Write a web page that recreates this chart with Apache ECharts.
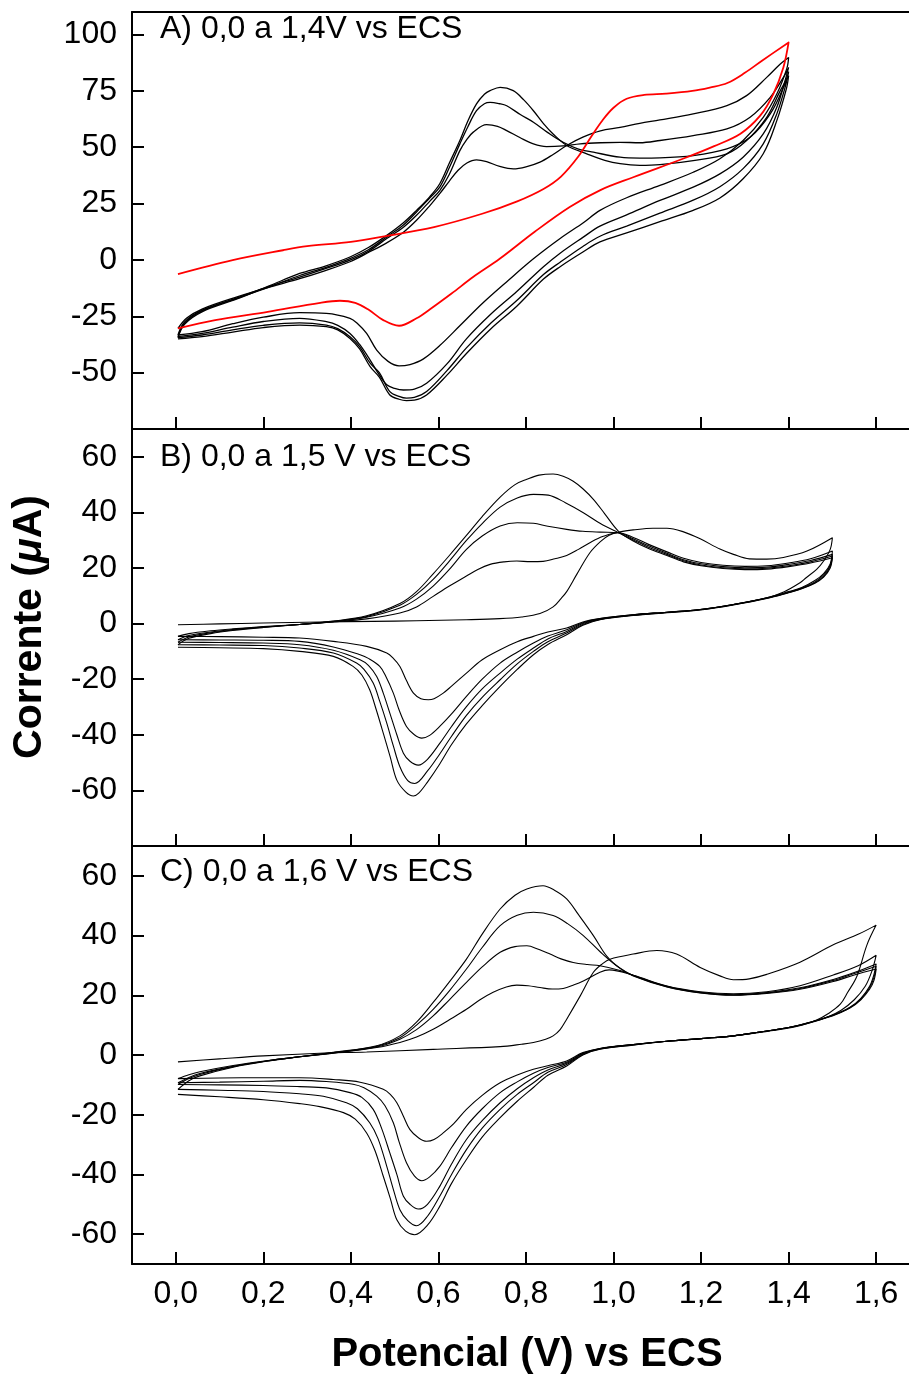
<!DOCTYPE html>
<html><head><meta charset="utf-8">
<script src="https://cdn.jsdelivr.net/npm/echarts@6/dist/echarts.min.js"></script>
<style>html,body{margin:0;padding:0;background:#fff}#c{width:909px;height:1378px}</style>
</head><body><div id="c"></div>
<script>
// ---- tick labels ----
const xTicks = [0, 0.2, 0.4, 0.6, 0.8, 1.0, 1.2, 1.4, 1.6];
const yTicksA = [-50, -25, 0, 25, 50, 75, 100];
const yTicksB = [-60, -40, -20, 0, 20, 40, 60];
const yTicksC = [-60, -40, -20, 0, 20, 40, 60];
const panelLabels = ['A) 0,0 a 1,4V vs ECS', 'B) 0,0 a 1,5 V vs ECS', 'C) 0,0 a 1,6 V vs ECS'];

// ---- Panel A: 0,0 a 1,4 V (cycle 1 red, cycles 2-5 black) ----
const A1 = [[0.005,-6.3],[0.13,-0.1],[0.245,4.3],[0.30,6.1],[0.40,8.0],[0.48,10.6],[0.59,14.6],[0.70,20.5],[0.78,26],[0.84,31.5],[0.88,37],[0.92,46],[0.95,55],[0.975,62],[1.0,67.5],[1.03,71.5],[1.07,73.2],[1.12,73.8],[1.18,75.0],[1.22,76.5],[1.26,78.5],[1.30,83],[1.34,88.5],[1.40,96.5],
  [1.388,85.4],[1.365,73.6],[1.335,64],[1.29,56],[1.23,50.5],[1.16,45],[1.045,36.7],[0.97,31.0],[0.90,23.5],[0.82,12.5],[0.74,0.5],[0.68,-7.5],[0.63,-14.9],[0.58,-22],[0.55,-25.9],[0.51,-29.2],[0.474,-26.7],[0.44,-22],[0.41,-19],[0.375,-18.1],[0.33,-19.0],[0.21,-23.0],[0.09,-26.7],[0.005,-30.4]];
const A2 = [[0.005,-30.4],[0.025,-25.8],[0.06,-21.8],[0.14,-16.4],[0.215,-12],[0.283,-8.3],[0.34,-4.8],[0.398,-0.8],[0.44,3.3],[0.482,7.6],[0.52,12.3],[0.55,17.6],[0.58,24],[0.603,29.4],[0.625,35],[0.645,39.8],[0.665,43],[0.687,44.4],[0.71,43.6],[0.74,41.5],[0.771,40.4],[0.80,41.3],[0.832,43.4],[0.862,46.8],[0.893,50.8],[0.93,54.5],[0.97,57.3],[1.015,58.8],[1.06,60.6],[1.106,62.1],[1.182,64.8],[1.259,68.5],[1.304,72.9],[1.35,81.0],[1.381,86.9],[1.40,89.8],
  [1.396,85],[1.373,73.6],[1.342,63.3],[1.296,53.0],[1.243,44.9],[1.182,38.9],[1.106,33.1],[1.03,27.6],[0.969,22],[0.931,16.5],[0.878,9.5],[0.817,0.5],[0.76,-9],[0.702,-19],[0.65,-29],[0.603,-38],[0.565,-44],[0.535,-46.4],[0.51,-47],[0.485,-45],[0.459,-40],[0.436,-32.6],[0.415,-28.2],[0.398,-25.9],[0.344,-23.7],[0.283,-23.4],[0.2,-25.4],[0.13,-28.3],[0.06,-31.8],[0.005,-33.3]];
const A3 = [[0.005,-33.3],[0.02,-27.5],[0.06,-22.3],[0.14,-16.8],[0.215,-11.6],[0.283,-7.6],[0.34,-4],[0.398,-0.1],[0.44,3.8],[0.482,9.5],[0.52,14.5],[0.55,19.8],[0.58,26],[0.603,30.8],[0.625,38],[0.649,48.5],[0.665,53.5],[0.679,56.6],[0.71,60],[0.735,59.3],[0.756,57.4],[0.787,54.2],[0.817,51.5],[0.847,50.3],[0.885,50.6],[0.924,51.5],[0.97,52],[1.015,52.2],[1.06,52],[1.106,53],[1.182,55.2],[1.259,58.1],[1.312,63.3],[1.358,72.1],[1.388,81.0],[1.40,85.4],
  [1.394,81],[1.373,67.7],[1.342,55.9],[1.296,45.6],[1.243,38.2],[1.182,32.3],[1.106,26.4],[1.03,20],[0.969,15],[0.93,10],[0.878,3],[0.84,-3],[0.779,-14],[0.72,-24],[0.664,-35],[0.62,-46],[0.573,-54.7],[0.545,-57.3],[0.52,-57.7],[0.50,-57],[0.482,-55.4],[0.46,-49.5],[0.444,-44.4],[0.42,-37.5],[0.398,-32.6],[0.37,-29],[0.344,-27.4],[0.283,-25.9],[0.2,-27.3],[0.13,-29.8],[0.06,-32.6],[0.005,-34]];
const A4 = [[0.005,-34],[0.02,-28],[0.06,-22.6],[0.14,-17],[0.215,-11.9],[0.283,-6.9],[0.34,-3.5],[0.398,0.6],[0.44,4.5],[0.482,10.2],[0.52,15.5],[0.55,21.3],[0.58,27.5],[0.603,32.3],[0.625,41],[0.649,51.5],[0.667,59],[0.687,66.2],[0.705,69.3],[0.718,69.9],[0.74,69.3],[0.756,68.4],[0.787,64.5],[0.817,61.1],[0.85,56.5],[0.885,52.2],[0.92,49.2],[0.954,47.8],[1.015,45.6],[1.06,45.2],[1.106,45.3],[1.182,46.3],[1.259,49.3],[1.312,54.4],[1.358,64.8],[1.388,76.5],[1.40,83.5],
  [1.394,78],[1.373,64.8],[1.342,51.5],[1.296,40.5],[1.243,32.5],[1.182,26.5],[1.106,20.8],[1.03,15],[0.969,10.5],[0.93,6],[0.878,-1],[0.84,-6.5],[0.779,-18],[0.72,-28],[0.664,-39],[0.62,-49],[0.573,-58.4],[0.545,-61],[0.527,-61.3],[0.51,-60.5],[0.489,-58.4],[0.465,-50],[0.444,-45.8],[0.42,-38.5],[0.398,-34.1],[0.37,-30.5],[0.344,-28.9],[0.283,-27.9],[0.2,-29],[0.13,-31],[0.06,-33.3],[0.005,-34.5]];
const A5 = [[0.005,-34.5],[0.02,-28.5],[0.06,-23],[0.14,-17.3],[0.215,-11.4],[0.283,-6.0],[0.34,-2.8],[0.398,1.3],[0.44,5.5],[0.482,10.9],[0.52,16.5],[0.55,22],[0.58,28],[0.603,33.8],[0.625,43],[0.649,53],[0.667,61.5],[0.687,69.2],[0.705,73.5],[0.718,75.1],[0.741,76.6],[0.771,75.1],[0.795,71],[0.817,66.2],[0.84,60.5],[0.862,55.9],[0.893,50.8],[0.939,47.1],[0.98,44.2],[1.015,42.7],[1.06,42],[1.106,42.3],[1.182,44.1],[1.259,47.1],[1.304,53],[1.35,63.3],[1.381,75.1],[1.40,81.7],
  [1.395,76],[1.373,61.8],[1.342,47.1],[1.296,36],[1.243,27.5],[1.182,22],[1.106,17],[1.03,12],[0.969,8],[0.93,3.5],[0.878,-3],[0.84,-8.5],[0.779,-20.5],[0.72,-30.5],[0.664,-41.5],[0.62,-51],[0.573,-59.9],[0.545,-62.2],[0.527,-62.4],[0.51,-61.8],[0.489,-59.9],[0.465,-52],[0.444,-47.3],[0.42,-39.5],[0.398,-34.8],[0.37,-31],[0.344,-29.6],[0.283,-28.9],[0.2,-30],[0.13,-32],[0.06,-34],[0.005,-35]];

// ---- Panel B: 0,0 a 1,5 V (cycles 1-5) ----
const B1 = [[0.005,-0.4],[0.1,-0.1],[0.2,0.2],[0.329,0.6],[0.45,0.8],[0.55,1.0],[0.664,1.4],[0.74,1.8],[0.79,2.4],[0.832,3.6],[0.862,6],[0.88,9],[0.893,11.5],[0.916,17.7],[0.946,25.5],[0.97,29.5],[0.99,31.8],[1.015,33],[1.045,33.7],[1.09,34.3],[1.122,34.3],[1.16,33],[1.198,30.5],[1.243,26.8],[1.274,24.9],[1.31,23.3],[1.35,23.2],[1.388,23.8],[1.442,26.1],[1.50,30.9],
  [1.495,26.7],[1.48,22.5],[1.464,19.5],[1.44,16.5],[1.426,14.7],[1.39,11.5],[1.35,9.3],[1.274,6.9],[1.198,5.1],[1.122,4.1],[1.045,3.2],[0.969,1.8],[0.93,0.6],[0.893,-1.6],[0.85,-3],[0.817,-4.6],[0.78,-6.5],[0.741,-9.4],[0.70,-13],[0.664,-17.8],[0.63,-22.5],[0.611,-25],[0.59,-27],[0.577,-27.4],[0.56,-27],[0.543,-25],[0.527,-20.5],[0.512,-15.4],[0.497,-12.5],[0.482,-10.6],[0.436,-8.2],[0.36,-6.4],[0.283,-5.2],[0.2,-4.9],[0.1,-4.7],[0.005,-4.6]];
const B2 = [[0.005,-4.6],[0.03,-3.6],[0.08,-2.6],[0.13,-1.9],[0.2,-1.1],[0.283,-0.3],[0.36,0.6],[0.436,1.7],[0.512,3.8],[0.55,6],[0.588,9.8],[0.625,13.5],[0.664,17.1],[0.69,19.5],[0.718,21.3],[0.75,22.2],[0.779,22.5],[0.81,22.3],[0.839,22.4],[0.866,23.3],[0.893,24.5],[0.92,26.7],[0.946,29.1],[0.975,31.3],[1.011,32.7],[1.045,31],[1.08,28.5],[1.122,25.8],[1.16,23.5],[1.2,22],[1.25,21],[1.3,20.6],[1.35,20.8],[1.4,21.8],[1.45,23.3],[1.50,26.1],
  [1.495,21.5],[1.48,18],[1.46,15.5],[1.43,13],[1.40,11.5],[1.35,9.3],[1.274,6.9],[1.198,5.1],[1.122,4.1],[1.045,3.2],[0.969,1.8],[0.93,0.3],[0.893,-2.2],[0.85,-4.5],[0.817,-7],[0.78,-10.3],[0.741,-14.2],[0.70,-20],[0.664,-26.2],[0.63,-32.5],[0.603,-37],[0.58,-40.2],[0.562,-41.2],[0.545,-40],[0.527,-37],[0.51,-31],[0.497,-25],[0.48,-19],[0.466,-15.4],[0.44,-12.5],[0.421,-11.2],[0.36,-8.4],[0.283,-6.4],[0.2,-6],[0.1,-5.9],[0.005,-5.8]];
const B3 = [[0.005,-5.8],[0.03,-4.3],[0.08,-3],[0.13,-2.1],[0.2,-1.2],[0.283,-0.3],[0.36,0.7],[0.436,2.3],[0.512,5.6],[0.55,8.8],[0.588,13.5],[0.625,19.5],[0.664,26.7],[0.70,31.5],[0.741,35.1],[0.78,36.3],[0.817,36.1],[0.85,35],[0.893,33.9],[0.93,33.2],[0.969,32.9],[1.011,32.7],[1.045,30.5],[1.08,28],[1.122,25.3],[1.16,23],[1.2,21.5],[1.25,20.5],[1.3,20.1],[1.35,20.3],[1.4,21.3],[1.45,22.7],[1.50,24.9],
  [1.495,21],[1.48,17.5],[1.46,15],[1.43,12.8],[1.40,11.3],[1.35,9.2],[1.274,6.9],[1.198,5.1],[1.122,4.1],[1.045,3.1],[0.969,1.6],[0.93,0],[0.893,-2.8],[0.85,-5.5],[0.817,-8.8],[0.78,-12.8],[0.741,-17.8],[0.70,-23.5],[0.664,-29.9],[0.63,-37],[0.603,-43.1],[0.575,-48.8],[0.554,-50.9],[0.535,-49.5],[0.52,-46.6],[0.505,-40],[0.489,-32.2],[0.474,-25],[0.459,-19],[0.44,-15],[0.421,-13],[0.36,-9.6],[0.283,-7.6],[0.2,-7],[0.1,-6.8],[0.005,-6.7]];
const B4 = [[0.005,-6.7],[0.03,-4.8],[0.08,-3.3],[0.13,-2.3],[0.2,-1.3],[0.283,-0.3],[0.36,0.8],[0.436,2.5],[0.512,6.6],[0.55,10.5],[0.588,15.9],[0.625,22.5],[0.664,29.9],[0.70,36],[0.741,41.9],[0.78,45.2],[0.817,46.5],[0.851,46.2],[0.89,43.5],[0.931,39.9],[0.97,36],[1.011,32.7],[1.045,30.1],[1.08,27.5],[1.122,24.9],[1.16,22.6],[1.2,21.1],[1.25,20.1],[1.3,19.7],[1.35,19.9],[1.4,20.8],[1.45,22.2],[1.50,24.3],
  [1.495,20.5],[1.48,17],[1.46,14.7],[1.43,12.6],[1.40,11.2],[1.35,9.1],[1.274,6.8],[1.198,5.0],[1.122,4.0],[1.045,3.0],[0.969,1.5],[0.93,-0.3],[0.893,-3.4],[0.85,-6.5],[0.817,-10],[0.78,-14.5],[0.741,-20.2],[0.70,-26.5],[0.664,-33],[0.63,-40.5],[0.603,-46.9],[0.575,-53],[0.546,-57.5],[0.53,-56.5],[0.512,-51.5],[0.497,-44],[0.482,-35.8],[0.466,-28],[0.451,-21.4],[0.43,-16.5],[0.413,-14.2],[0.36,-10.6],[0.283,-8.8],[0.2,-7.9],[0.1,-7.7],[0.005,-7.6]];
const B5 = [[0.005,-7.6],[0.03,-5.3],[0.08,-3.6],[0.13,-2.5],[0.2,-1.4],[0.283,-0.3],[0.36,0.9],[0.436,2.8],[0.512,7.2],[0.55,11.5],[0.588,17.9],[0.625,24.5],[0.664,31.7],[0.70,38.5],[0.741,45.5],[0.775,50],[0.802,51.9],[0.83,53.4],[0.862,53.8],[0.885,53],[0.908,51.2],[0.93,48.5],[0.954,44.7],[0.98,39.5],[1.011,33.3],[1.045,29.7],[1.08,27],[1.122,24.5],[1.16,22.2],[1.2,20.8],[1.25,19.8],[1.3,19.4],[1.35,19.6],[1.4,20.5],[1.45,21.8],[1.50,23.7],
  [1.495,20],[1.48,16.7],[1.46,14.5],[1.43,12.5],[1.40,11.1],[1.35,9.0],[1.274,6.7],[1.198,4.9],[1.122,3.9],[1.045,2.9],[0.969,1.4],[0.93,-0.6],[0.893,-4],[0.85,-7.5],[0.817,-11.2],[0.78,-16.5],[0.741,-22.6],[0.70,-29.5],[0.664,-36.1],[0.63,-43.5],[0.603,-50.5],[0.575,-57],[0.555,-61],[0.543,-62],[0.525,-60.5],[0.505,-56.3],[0.49,-48],[0.474,-39.4],[0.458,-31],[0.443,-23.8],[0.425,-18.5],[0.405,-15.4],[0.36,-11.8],[0.283,-10],[0.2,-9],[0.1,-8.7],[0.005,-8.5]];

// ---- Panel C: 0,0 a 1,6 V (cycles 1-5) ----
const C1 = [[0.005,-2.3],[0.1,-1.3],[0.2,-0.3],[0.329,0.6],[0.436,1.0],[0.588,1.9],[0.741,2.8],[0.79,3.6],[0.817,4.2],[0.845,5.3],[0.862,6.4],[0.878,8.5],[0.893,12],[0.924,19.8],[0.954,27.7],[0.975,30.6],[0.992,32.1],[1.045,33.8],[1.099,35.0],[1.144,33.8],[1.198,29.3],[1.243,26.5],[1.274,25.2],[1.31,25.5],[1.35,27],[1.426,31.1],[1.502,36.9],[1.56,40.5],[1.60,43.5],
  [1.579,36.9],[1.556,26.4],[1.535,21],[1.518,17],[1.49,13.8],[1.464,11.7],[1.43,10],[1.388,8.7],[1.33,7.5],[1.274,6.4],[1.2,5.5],[1.122,4.6],[1.045,3.5],[0.969,2.2],[0.93,0.8],[0.893,-2],[0.85,-3.6],[0.817,-4.8],[0.78,-6.7],[0.741,-9.3],[0.70,-13.5],[0.664,-18.2],[0.635,-23],[0.611,-26.1],[0.59,-28.3],[0.573,-28.9],[0.555,-27.8],[0.535,-25],[0.52,-20.5],[0.505,-16],[0.49,-13.2],[0.474,-11.5],[0.421,-9.1],[0.36,-8.2],[0.283,-7.6],[0.2,-7.6],[0.1,-7.7],[0.005,-7.9]];
const C2 = [[0.005,-7.9],[0.03,-6.6],[0.055,-5.6],[0.131,-3.5],[0.207,-1.9],[0.283,-0.6],[0.36,0.6],[0.459,2.5],[0.512,4.2],[0.55,6],[0.588,8.6],[0.625,11.8],[0.664,15.3],[0.695,18.5],[0.725,21],[0.755,22.8],[0.779,23.4],[0.805,23.2],[0.832,22.6],[0.86,22.1],[0.885,22.3],[0.91,23.5],[0.931,24.8],[0.969,27.7],[0.99,28.5],[1.045,26.7],[1.122,23.1],[1.198,21.2],[1.274,20.5],[1.35,21.2],[1.426,23.2],[1.502,26.8],[1.56,30],[1.60,33.4],
  [1.59,28],[1.575,23],[1.55,18.5],[1.52,15],[1.49,12.8],[1.45,10.8],[1.40,9.2],[1.33,7.6],[1.274,6.4],[1.2,5.5],[1.122,4.6],[1.045,3.5],[0.969,2.2],[0.93,0.6],[0.893,-2.4],[0.85,-4.2],[0.817,-6.1],[0.78,-9],[0.741,-12.6],[0.70,-18],[0.664,-23.8],[0.63,-31],[0.603,-37.3],[0.58,-40.8],[0.562,-42.1],[0.545,-40.5],[0.527,-36.1],[0.51,-29],[0.497,-22.7],[0.478,-17],[0.459,-13.8],[0.43,-11],[0.405,-9.8],[0.344,-8.9],[0.283,-8.5],[0.2,-8.8],[0.1,-9.1],[0.005,-9.3]];
const C3 = [[0.005,-9.3],[0.03,-7.5],[0.055,-6.2],[0.131,-3.8],[0.207,-2],[0.283,-0.6],[0.36,0.7],[0.459,2.7],[0.512,5.3],[0.55,8.5],[0.588,13.1],[0.625,18.5],[0.664,24.3],[0.70,29.5],[0.741,34.4],[0.775,36.3],[0.802,36.6],[0.83,35.3],[0.855,33.8],[0.88,32.2],[0.908,31],[0.94,30.3],[0.969,29.9],[1.015,28.3],[1.045,26.7],[1.122,23],[1.198,21],[1.274,20.2],[1.35,20.9],[1.426,22.5],[1.502,25.3],[1.55,27.6],[1.60,30.5],
  [1.595,27],[1.585,23],[1.565,19],[1.54,16],[1.50,13.3],[1.45,11],[1.40,9.2],[1.33,7.6],[1.274,6.4],[1.2,5.5],[1.122,4.6],[1.045,3.5],[0.969,2.1],[0.93,0.4],[0.893,-2.8],[0.85,-5],[0.817,-7.6],[0.78,-11.3],[0.741,-16],[0.70,-22],[0.664,-28.3],[0.63,-36.5],[0.603,-44],[0.575,-50],[0.554,-51.6],[0.535,-50],[0.52,-47.3],[0.505,-40],[0.489,-32.8],[0.47,-24.5],[0.451,-18.2],[0.425,-14.2],[0.398,-12.6],[0.344,-11],[0.283,-10.6],[0.2,-10.2],[0.1,-10],[0.005,-9.9]];
const C4 = [[0.005,-9.9],[0.03,-7.9],[0.055,-6.5],[0.131,-3.9],[0.207,-2],[0.283,-0.6],[0.36,0.8],[0.459,2.9],[0.512,5.8],[0.55,10],[0.588,15.3],[0.625,21.5],[0.664,28.8],[0.70,36],[0.741,43.3],[0.78,46.8],[0.817,47.8],[0.862,46.7],[0.895,44],[0.931,40],[0.97,34.5],[1.007,29.9],[1.045,26.6],[1.122,22.9],[1.198,20.9],[1.274,20.1],[1.35,20.8],[1.426,22.3],[1.502,25],[1.55,27.3],[1.60,29.7],
  [1.595,26],[1.585,22.5],[1.565,18.7],[1.54,15.8],[1.50,13.2],[1.45,11],[1.40,9.2],[1.33,7.6],[1.274,6.4],[1.2,5.5],[1.122,4.6],[1.045,3.4],[0.969,2.0],[0.93,0.2],[0.893,-3.2],[0.85,-5.8],[0.817,-9.3],[0.78,-13.2],[0.741,-18.2],[0.70,-24.5],[0.664,-31.7],[0.63,-40],[0.603,-47.3],[0.575,-54],[0.55,-57.2],[0.53,-55.5],[0.512,-51.8],[0.497,-45],[0.482,-37.3],[0.462,-28],[0.443,-22.7],[0.415,-18],[0.39,-16],[0.337,-13.8],[0.283,-13],[0.2,-12.2],[0.1,-11.8],[0.005,-11.5]];
const C5 = [[0.005,-11.5],[0.03,-8.6],[0.055,-7],[0.131,-4.1],[0.207,-2.1],[0.283,-0.6],[0.36,0.9],[0.459,3.1],[0.512,6.4],[0.55,11],[0.588,17.6],[0.625,24.5],[0.664,32.1],[0.70,40.5],[0.741,48.9],[0.775,53.5],[0.802,55.6],[0.839,56.7],[0.865,55.2],[0.893,52.3],[0.92,47],[0.954,40],[0.985,33],[1.015,29],[1.045,26.5],[1.122,22.8],[1.198,20.8],[1.274,20],[1.35,20.6],[1.426,22],[1.502,24.6],[1.55,26.8],[1.60,28.8],
  [1.595,25],[1.585,22],[1.565,18.5],[1.54,15.7],[1.50,13.1],[1.45,11],[1.40,9.2],[1.33,7.6],[1.274,6.4],[1.2,5.5],[1.122,4.6],[1.045,3.3],[0.969,1.9],[0.93,0],[0.893,-3.7],[0.85,-6.8],[0.817,-10.9],[0.78,-15.5],[0.741,-21],[0.70,-27.5],[0.664,-35],[0.63,-43],[0.603,-50.7],[0.575,-57],[0.546,-60.2],[0.525,-59],[0.505,-55.2],[0.49,-48],[0.474,-40.6],[0.455,-32],[0.436,-26.1],[0.41,-21.5],[0.383,-19.3],[0.329,-17.3],[0.283,-16.3],[0.2,-15],[0.1,-14],[0.005,-13.2]];

// ---------------------------------------------------------------
const FONT = "'Liberation Sans', Arial, Helvetica, sans-serif";
const chart = echarts.init(document.getElementById('c'), null, {renderer: 'canvas'});

const grids = [
  {left: 132, top: 12, width: 777, height: 417},
  {left: 132, top: 429, width: 777, height: 417},
  {left: 132, top: 846, width: 777, height: 418}
];
const yRanges = [[-75, 110], [-80, 70], [-70, 70]];
const yTickSets = [yTicksA, yTicksB, yTicksC];
const fmt = v => String(Math.round(v * 10) / 10).replace('.', ',');
const xFmt = v => (Math.round(v * 10) / 10).toFixed(1).replace('.', ',');

const xAxes = [], yAxes = [];
for (let i = 0; i < 3; i++) {
  xAxes.push({
    type: 'value', gridIndex: i, min: -0.1, max: 1.675, position: 'bottom',
    splitLine: {show: false},
    axisLine: {show: true, onZero: false, lineStyle: {color: '#000', width: 2}},
    axisTick: {show: true, inside: true, length: 12, lineStyle: {color: '#000', width: 2}, customValues: xTicks},
    axisLabel: {show: i === 2, customValues: xTicks, formatter: xFmt, color: '#000', fontSize: 32, fontFamily: FONT, margin: 14}
  });
}
for (let i = 0; i < 3; i++) {
  xAxes.push({
    type: 'value', gridIndex: i, min: -0.1, max: 1.675, position: 'top',
    splitLine: {show: false},
    axisLine: {show: true, onZero: false, lineStyle: {color: '#000', width: 2}},
    axisTick: {show: false}, axisLabel: {show: false}
  });
}
for (let i = 0; i < 3; i++) {
  yAxes.push({
    type: 'value', gridIndex: i, min: yRanges[i][0], max: yRanges[i][1],
    splitLine: {show: false},
    axisLine: {show: true, onZero: false, lineStyle: {color: '#000', width: 2}},
    axisTick: {show: true, inside: true, length: 12, lineStyle: {color: '#000', width: 2}, customValues: yTickSets[i]},
    axisLabel: {show: true, customValues: yTickSets[i], formatter: fmt, color: '#000', fontSize: 32, fontFamily: FONT, margin: 15}
  });
}

const panels = [
  [A1, A2, A3, A4, A5],
  [B1, B2, B3, B4, B5],
  [C1, C2, C3, C4, C5]
];
const series = [];
panels.forEach((cycles, p) => {
  cycles.forEach((d, k) => {
    const red = (p === 0 && k === 0);
    series.push({
      type: 'line', xAxisIndex: p, yAxisIndex: p, data: d,
      showSymbol: false, smooth: 0.35, silent: true,
      z: red ? 3 : 2,
      lineStyle: {color: red ? '#ff0000' : '#000', width: red ? 1.8 : (p === 0 ? 1.3 : 1.1)}
    });
  });
});

const labelY = [29, 457, 872];
const graphic = [];
panelLabels.forEach((t, i) => {
  graphic.push({type: 'text', x: 160, y: labelY[i],
    style: {text: t, fill: '#000', font: '32px ' + FONT, textAlign: 'left', textVerticalAlign: 'middle'}});
});
graphic.push({type: 'text', x: 527, y: 1355,
  style: {text: 'Potencial (V) vs ECS', fill: '#000', font: 'bold 40px ' + FONT, textAlign: 'center', textVerticalAlign: 'middle'}});
graphic.push({type: 'text', x: 30, y: 627, rotation: Math.PI / 2,
  style: {
    text: '{b|Corrente (}{i|μ}{b|A)}', textAlign: 'center', textVerticalAlign: 'middle',
    rich: {
      b: {fontSize: 41, fontWeight: 'bold', fontFamily: FONT, fill: '#000', color: '#000'},
      i: {fontSize: 41, fontWeight: 'bold', fontStyle: 'italic', fontFamily: FONT, fill: '#000', color: '#000'}
    }
  }});

chart.setOption({
  animation: false,
  backgroundColor: '#fff',
  grid: grids,
  xAxis: xAxes,
  yAxis: yAxes,
  series: series,
  graphic: graphic
});
</script></body></html>
